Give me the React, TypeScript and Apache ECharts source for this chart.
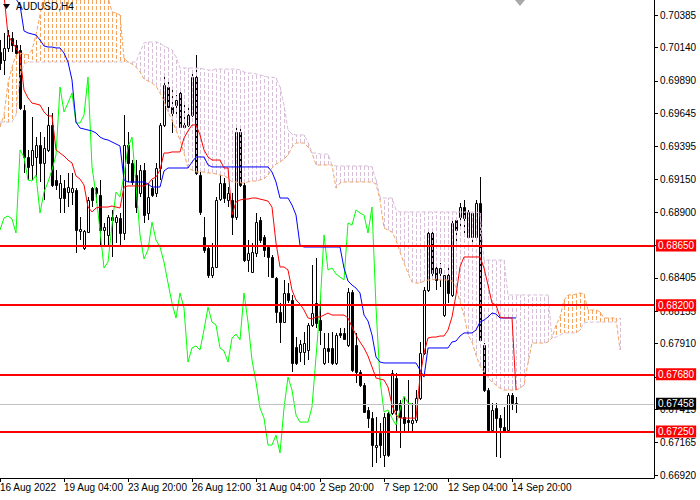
import React, { useEffect, useRef } from "react";
import * as echarts from "echarts";

// prices are stored in units of 0.00001
const SCALE = 1e5;
const symbolTitle = "AUDUSD,H4";

const xTickBars = [0, 16, 32, 48, 64, 80, 96, 112, 128];
const xTickLabels = ["16 Aug 2022", "19 Aug 04:00", "23 Aug 20:00", "26 Aug 12:00", "31 Aug 04:00", "2 Sep 20:00", "7 Sep 12:00", "12 Sep 04:00", "14 Sep 20:00"];
const yTickValues = [70385, 70140, 69890, 69645, 69395, 69150, 68900, 68650, 68405, 68155, 67910, 67660, 67415, 67165, 66920];
const yMin = 66899;
const yMax = 70498;
const xMax = 163.5;

const levelLines = [68650, 68200, 67680, 67250];
const bidPrice = 67458;

const opens = [70106, 70046, 70137, 70212, 70159, 70122, 69670, 69316, 69256, 69316, 69406, 69271, 69369, 69557, 69143, 69007, 69082, 69052, 69052, 69067, 68759, 68631, 68751, 69082, 69082, 69030, 68766, 68729, 68864, 68826, 68857, 68744, 69406, 69271, 69180, 69045, 69218, 68894, 69082, 69045, 69233, 69557, 69843, 69692, 69707, 69798, 69557, 69557, 69632, 69918, 69180, 68714, 68631, 68427, 68488, 68999, 69120, 68992, 68992, 68864, 69504, 69105, 68540, 68450, 68593, 68841, 68714, 68638, 68563, 68405, 68149, 68073, 68292, 68239, 67885, 67847, 67847, 67863, 68051, 68216, 68088, 67765, 67878, 67878, 67765, 67991, 67991, 67900, 68299, 67900, 67697, 67599, 67411, 67350, 67132, 67238, 67072, 67388, 67388, 67652, 67463, 67358, 67335, 67313, 67335, 67501, 67840, 68314, 68744, 68480, 68442, 68126, 68427, 68277, 68841, 68864, 68939, 68714, 68714, 68714, 68969, 67900, 67561, 67260, 67426, 67350, 67283, 67260, 67524, 67463];
const highs = [70197, 70250, 70272, 70257, 70197, 70159, 69707, 69369, 69617, 69466, 69504, 69466, 69692, 69647, 69218, 69180, 69143, 69195, 69195, 69082, 68864, 68766, 69015, 69090, 69090, 69143, 68819, 68879, 68917, 68879, 68894, 69632, 69504, 69293, 69293, 69256, 69271, 69120, 69143, 69271, 69572, 69918, 69881, 69835, 69783, 69805, 69707, 69707, 69971, 70084, 69218, 68864, 68646, 68668, 69015, 69180, 69158, 69090, 69045, 69534, 69534, 69120, 68691, 68668, 68894, 68864, 68729, 68653, 68578, 68412, 68216, 68390, 68367, 68277, 67960, 67938, 67998, 68066, 68503, 68555, 68239, 67991, 67991, 67998, 67991, 68028, 68028, 68329, 68314, 67991, 67712, 67614, 67433, 67396, 67358, 67313, 67388, 67396, 67712, 67689, 67486, 67509, 67637, 67463, 67561, 67923, 68337, 68766, 68751, 68488, 68518, 68427, 68503, 68841, 68864, 68969, 68992, 68917, 68902, 68992, 69165, 67915, 67576, 67463, 67463, 67373, 67433, 67539, 67539, 67509];
const lows = [69971, 69933, 70106, 70106, 70061, 69670, 69195, 69143, 69143, 69165, 69128, 68992, 69354, 69090, 69067, 68894, 68894, 68939, 68954, 68593, 68691, 68616, 68744, 68939, 68969, 68653, 68653, 68653, 68563, 68668, 68653, 68691, 69128, 69105, 68894, 69015, 68819, 68841, 69015, 69015, 69143, 69542, 69655, 69497, 69632, 69534, 69534, 69542, 69617, 69180, 68879, 68593, 68405, 68405, 68480, 68984, 68969, 68939, 68729, 68841, 69090, 68525, 68450, 68442, 68563, 68668, 68563, 68412, 68405, 68066, 67915, 68066, 68216, 67697, 67750, 67772, 67750, 67787, 68036, 68028, 67900, 67750, 67765, 67750, 67750, 67953, 67938, 67885, 67697, 67614, 67584, 67388, 67275, 66982, 67012, 67049, 66982, 67057, 67373, 67238, 67125, 67238, 67238, 67238, 67313, 67486, 67825, 68299, 68412, 68314, 68337, 68111, 68216, 68262, 68631, 68766, 68744, 68706, 68638, 68691, 67923, 67546, 67245, 67238, 67057, 67049, 67238, 67238, 67411, 67388];
const closes = [70024, 70137, 70234, 70159, 70099, 69685, 69316, 69241, 69369, 69406, 69271, 69384, 69557, 69105, 69105, 69120, 69007, 69090, 69082, 68766, 68774, 68759, 68992, 68992, 69045, 68766, 68789, 68864, 68841, 68864, 68744, 69406, 69271, 69128, 68939, 69218, 68879, 69015, 69030, 69233, 69557, 69858, 69692, 69647, 69745, 69542, 69542, 69632, 69918, 69195, 68902, 68616, 68427, 68488, 68992, 69120, 69007, 69045, 68864, 69504, 69105, 68540, 68593, 68600, 68826, 68691, 68616, 68563, 68412, 68149, 68073, 68292, 68239, 67765, 67765, 67908, 67915, 68051, 68141, 68066, 68013, 67878, 67855, 67765, 67976, 67976, 67946, 68299, 67712, 67697, 67599, 67396, 67350, 67147, 67147, 67147, 67358, 67072, 67689, 67411, 67358, 67313, 67320, 67335, 67501, 67840, 68314, 68744, 68442, 68390, 68480, 68427, 68292, 68819, 68766, 68939, 68857, 68902, 68894, 68969, 67938, 67561, 67260, 67411, 67350, 67283, 67245, 67524, 67463, 67458];

const tenkan = [70649, 70536, 70234, 70182, 70137, 70084, 69820, 69760, 69722, 69715, 69707, 69655, 69625, 69625, 69369, 69346, 69323, 69293, 69271, 69173, 69150, 69105, 68939, 68902, 68932, 68939, 68939, 68939, 68947, 68939, 68932, 69090, 69098, 69098, 69098, 69098, 69098, 69113, 69150, 69165, 69218, 69346, 69346, 69354, 69354, 69354, 69459, 69512, 69557, 69557, 69482, 69369, 69316, 69293, 69293, 69293, 69233, 69233, 68879, 68977, 68992, 68999, 68999, 69007, 69007, 68999, 68992, 68984, 68939, 68668, 68488, 68488, 68465, 68314, 68239, 68209, 68164, 68104, 68096, 68111, 68111, 68126, 68141, 68126, 68126, 68126, 68126, 68104, 68036, 67976, 67923, 67878, 67817, 67735, 67652, 67644, 67637, 67584, 67448, 67373, 67350, 67350, 67350, 67350, 67350, 67659, 67840, 67953, 67960, 67960, 67968, 67968, 68013, 68111, 68277, 68488, 68563, 68563, 68563, 68563, 68563, 68480, 68352, 68216, 68201, 68111, 68104, 68104, 68104, 67561];
const kijun = [70573, 70536, 70521, 70513, 70506, 70460, 70265, 70250, 70242, 70234, 70197, 70152, 70144, 70144, 70137, 70137, 70099, 70031, 69896, 69579, 69534, 69527, 69519, 69512, 69497, 69466, 69451, 69444, 69429, 69414, 69399, 69143, 69128, 69128, 69128, 69128, 69128, 69113, 69090, 69090, 69090, 69211, 69233, 69233, 69233, 69233, 69233, 69233, 69278, 69316, 69316, 69316, 69256, 69241, 69241, 69241, 69241, 69241, 69241, 69241, 69241, 69241, 69241, 69241, 69241, 69241, 69241, 69241, 69203, 69128, 69007, 69007, 69007, 68954, 68879, 68653, 68638, 68638, 68638, 68638, 68638, 68638, 68638, 68638, 68638, 68638, 68480, 68382, 68352, 68329, 68292, 68126, 68081, 67976, 67810, 67772, 67765, 67765, 67765, 67765, 67765, 67765, 67765, 67765, 67765, 67712, 67659, 67878, 67878, 67878, 67878, 67878, 67878, 67923, 67930, 67968, 67991, 67991, 67991, 68013, 68073, 68088, 68111, 68141, 68134, 68104, 68104, 68104, 68104, 68104];
const chikou = [68766, 68857, 68872, 68849, 68744, 69369, 69316, 69143, 69135, 69180, 68894, 69052, 69128, 69218, 69331, 69843, 69655, 69722, 69798, 69572, 69572, 69632, 69918, 69241, 69030, 68766, 68480, 68525, 68804, 69052, 69015, 69180, 69391, 69466, 69105, 68729, 68548, 68616, 68826, 68691, 68638, 68525, 68367, 68216, 68103, 68292, 68179, 67772, 67878, 67893, 67863, 68013, 68186, 68073, 68051, 67878, 67855, 67772, 67953, 67983, 67938, 68292, 68073, 67787, 67622, 67426, 67350, 67147, 67147, 67222, 67087, 67426, 67659, 67561, 67373, 67320, 67320, 67320, 67433, 67810, 68186, 68729, 68465, 68480, 68435, 68412, 68390, 68819, 68804, 68917, 68894, 68879, 68744, 68939, 68186, 67637, 67396, 67411, 67350, 67298, 67411, 67516, 67463, 67456];
const senkouA = [69542, 69632, 69873, 69993, 70084, 70099, 70091, 70084, 70122, 70234, 70385, 70558, 70558, 70558, 70558, 70558, 70558, 70558, 70558, 70558, 70558, 70558, 70558, 70558, 70558, 70558, 70558, 70521, 70408, 70400, 70385, 70061, 70031, 70016, 69993, 69956, 69903, 69888, 69873, 69850, 69798, 69737, 69655, 69594, 69519, 69444, 69346, 69233, 69218, 69203, 69203, 69203, 69195, 69195, 69188, 69180, 69173, 69158, 69128, 69128, 69120, 69120, 69128, 69135, 69135, 69143, 69150, 69180, 69233, 69263, 69278, 69301, 69331, 69391, 69421, 69421, 69421, 69391, 69346, 69256, 69256, 69256, 69256, 69256, 69082, 69120, 69128, 69128, 69128, 69128, 69128, 69128, 69128, 69128, 69113, 68992, 68781, 68766, 68751, 68691, 68600, 68518, 68442, 68375, 68367, 68367, 68382, 68390, 68390, 68397, 68390, 68390, 68390, 68382, 68337, 68224, 68126, 67976, 67923, 67825, 67742, 67697, 67652, 67622, 67599, 67576, 67561, 67561, 67561, 67561, 67576, 67599, 67765, 67915, 67915, 67915, 67915, 67923, 67953, 68051, 68111, 68239, 68277, 68277, 68284, 68292, 68284, 68164, 68164, 68164, 68149, 68104, 68104, 68104, 68104, 67863];
const senkouB = [69579, 69579, 69579, 69579, 69632, 69933, 70016, 70031, 70031, 70031, 70031, 70031, 70031, 70031, 70031, 70031, 70031, 70031, 70031, 70031, 70031, 70031, 70031, 70031, 70031, 70031, 70031, 70031, 70031, 70031, 70031, 70031, 70031, 70031, 70031, 70106, 70174, 70182, 70182, 70182, 70174, 70152, 70137, 70122, 70069, 69986, 69986, 69986, 69986, 69986, 69986, 69978, 69971, 69971, 69978, 69978, 69978, 69978, 69978, 69978, 69971, 69956, 69948, 69948, 69941, 69933, 69926, 69918, 69918, 69911, 69843, 69707, 69519, 69489, 69482, 69482, 69482, 69429, 69346, 69346, 69338, 69338, 69338, 69256, 69248, 69248, 69248, 69248, 69248, 69248, 69248, 69248, 69248, 69241, 69143, 69015, 69007, 69007, 69007, 68917, 68902, 68902, 68902, 68902, 68902, 68902, 68902, 68902, 68902, 68902, 68902, 68902, 68902, 68902, 68902, 68902, 68902, 68902, 68902, 68902, 68894, 68540, 68540, 68540, 68540, 68540, 68540, 68277, 68277, 68277, 68277, 68277, 68277, 68277, 68277, 68277, 68277, 68277, 67953, 67960, 67976, 67991, 67991, 67991, 67991, 68013, 68066, 68073, 68073, 68073, 68073, 68073, 68073, 68073, 68073, 68104];

const FONT = "Liberation Sans, Arial, sans-serif";
const ORANGE = "#F4A460";
const THISTLE = "#D8BFD8";

export default function App() {
  const ref = useRef<HTMLDivElement>(null);
  useEffect(() => {
    const chart = echarts.init(ref.current!, null, { renderer: "svg" });
    const p = (v: number) => v / SCALE;
    const candleData = opens.map((o, i) => [i, p(o), p(closes[i]), p(lows[i]), p(highs[i])]);
    const cloudData = senkouA.map((a, i) => [i, p(a), p(senkouB[i])]);
    const lineData = (arr: number[]) => arr.map((v, i) => [i, p(v)]);
    const clampY = (y: number, cs: any) => Math.min(Math.max(y, cs.y), cs.y + cs.height);

    const lineSeries = (name: string, arr: number[], color: string, dash?: number[]) => ({
      type: "line",
      name,
      data: lineData(arr),
      symbol: "none",
      showSymbol: false,
      smooth: false,
      clip: true,
      silent: true,
      z: 4,
      lineStyle: { color, width: 1, type: dash ? dash : "solid" },
    });

    const levelItem = (v: number, color: string, width: number, bg: string) => ({
      yAxis: p(v),
      lineStyle: { color, width, type: "solid" },
      label: {
        show: true,
        position: "end",
        distance: 2,
        formatter: (q: any) => Number(q.value).toFixed(5),
        backgroundColor: bg,
        color: "#ffffff",
        fontSize: 10,
        fontFamily: FONT,
        padding: [1, 2, 1, 2],
      },
    });

    chart.setOption({
      animation: false,
      backgroundColor: "#ffffff",
      textStyle: { fontFamily: FONT },
      grid: { left: 0, top: 0, right: 46, bottom: 22, containLabel: false, outerBoundsMode: "none", show: false },
      xAxis: {
        type: "value",
        min: 0,
        max: xMax,
        position: "bottom",
        splitLine: { show: false },
        axisLine: { show: true, onZero: false, lineStyle: { color: "#000", width: 1 } },
        axisTick: { show: true, inside: false, length: 4, lineStyle: { color: "#000" }, customValues: xTickBars },
        axisLabel: {
          show: true,
          customValues: xTickBars,
          align: "left",
          margin: 4,
          color: "#000",
          fontSize: 10,
          fontFamily: FONT,
          formatter: (v: number) => {
            const k = xTickBars.indexOf(Math.round(v));
            return k >= 0 ? xTickLabels[k] : "";
          },
        },
      },
      yAxis: {
        type: "value",
        min: p(yMin),
        max: p(yMax),
        position: "right",
        scale: true,
        splitLine: { show: false },
        axisLine: { show: true, onZero: false, lineStyle: { color: "#000", width: 1 } },
        axisTick: { show: true, inside: false, length: 4, lineStyle: { color: "#000" }, customValues: yTickValues.map(p) },
        axisLabel: {
          show: true,
          customValues: yTickValues.map(p),
          margin: 6,
          color: "#000",
          fontSize: 10,
          fontFamily: FONT,
          formatter: (v: number) => Number(v).toFixed(5),
        },
      },
      graphic: [
        { type: "polygon", shape: { points: [[3, 4], [10, 4], [6.5, 9]] }, style: { fill: "#000" }, z: 10 },
        { type: "text", left: 16, top: 1, style: { text: symbolTitle, fill: "#000", fontSize: 10, fontFamily: FONT }, z: 10 },
        { type: "polygon", shape: { points: [[515, 0], [525, 0], [520, 6]] }, style: { fill: "#a8a8a8" }, z: 10 },
      ],
      series: [
        {
          type: "custom",
          name: "candles",
          data: candleData,
          clip: true,
          silent: true,
          z: 2,
          encode: { x: 0, y: [1, 2, 3, 4] },
          renderItem: (params: any, api: any) => {
            const i = api.value(0);
            const o = api.value(1);
            const c = api.value(2);
            const po = api.coord([i, o]);
            const pc = api.coord([i, c]);
            const pl = api.coord([i, api.value(3)]);
            const ph = api.coord([i, api.value(4)]);
            const x = Math.round(po[0]) + 0.5;
            const top = Math.round(Math.min(po[1], pc[1])) + 0.5;
            const bot = Math.round(Math.max(po[1], pc[1])) + 0.5;
            const bull = c > o;
            return {
              type: "group",
              children: [
                { type: "line", shape: { x1: x, y1: Math.round(ph[1]), x2: x, y2: Math.round(pl[1]) }, style: { stroke: "#000", lineWidth: 1 } },
                { type: "rect", shape: { x: x - 1, y: top, width: 2, height: Math.max(bot - top, 1) }, style: { fill: bull ? "#fff" : "#000", stroke: "#000", lineWidth: 1 } },
              ],
            };
          },
        },
        {
          type: "custom",
          name: "cloud",
          data: cloudData,
          clip: true,
          silent: true,
          z: 3,
          encode: { x: 0, y: [1, 2] },
          renderItem: (params: any, api: any) => {
            const i = api.value(0);
            const a = api.value(1);
            const b = api.value(2);
            const cs = params.coordSys;
            const pa = api.coord([i, a]);
            const pb = api.coord([i, b]);
            const x = Math.round(pa[0]) + 0.5;
            return {
              type: "line",
              shape: { x1: x, y1: clampY(pa[1], cs), x2: x, y2: clampY(pb[1], cs) },
              style: { stroke: a >= b ? ORANGE : THISTLE, lineWidth: 1, lineDash: [4, 2] },
            };
          },
        },
        lineSeries("Senkou Span A", senkouA, ORANGE, [4, 2]),
        lineSeries("Senkou Span B", senkouB, THISTLE, [4, 2]),
        lineSeries("Chikou Span", chikou, "#00FF00"),
        lineSeries("Kijun-sen", kijun, "#0000FF"),
        lineSeries("Tenkan-sen", tenkan, "#FF0000"),
        {
          type: "line",
          name: "levels",
          data: [],
          z: 6,
          silent: true,
          markLine: {
            silent: true,
            animation: false,
            precision: 5,
            symbol: ["none", "none"],
            data: [
              ...levelLines.map((v) => levelItem(v, "#FF0000", 2, "#FF0000")),
              levelItem(bidPrice, "#C0C0C0", 1, "#000000"),
            ],
          },
        },
      ],
    });
    return () => chart.dispose();
  }, []);
  return <div ref={ref} style={{ position: "absolute", left: 0, top: 0, width: 700, height: 500, background: "#fff" }} />;
}
